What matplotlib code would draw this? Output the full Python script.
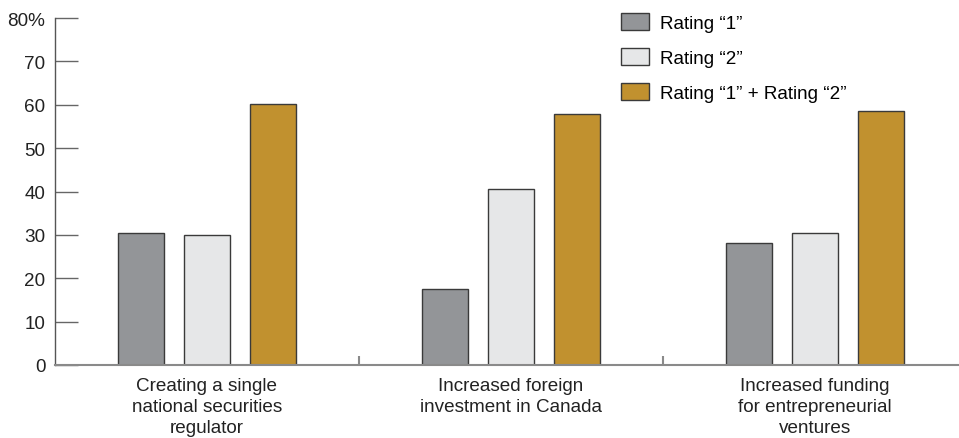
import numpy as np
import matplotlib
matplotlib.use('Agg')
import matplotlib.pyplot as plt
from matplotlib.ticker import FixedLocator, FuncFormatter

# Data
categories = ['Creating a single\nnational securities\nregulator',
              'Increased foreign\ninvestment in Canada',
              'Increased funding\nfor entrepreneurial\nventures']
series_names = ['Rating \u201c1\u201d', 'Rating \u201c2\u201d',
                'Rating \u201c1\u201d + Rating \u201c2\u201d']
rating1 = [30.4, 17.5, 28.2]
rating2 = [30.0, 40.5, 30.5]
rating12 = [60.2, 57.9, 58.5]
yticks = [0, 10, 20, 30, 40, 50, 60, 70, 80]

colors = ['#939598', '#E6E7E8', '#C1912F']
edge = '#3a3a3a'
FS = 13.6

plt.rcParams['font.family'] = ['Liberation Sans', 'DejaVu Sans']

W, H = 959, 439
fig = plt.figure(figsize=(W / 100, H / 100), dpi=100)
ax = fig.add_axes([55 / W, 73 / H, 912 / W, 347 / H])

x = np.arange(len(categories))
width = 0.151
offset = 0.217
for i, vals in enumerate([rating1, rating2, rating12]):
    ax.bar(x + (i - 1) * offset, vals, width, color=colors[i],
           edgecolor=edge, linewidth=1.0, label=series_names[i], zorder=3)

ax.set_xlim(-0.5, 2.5)
ax.set_ylim(0, 80)

for s in ['top', 'right']:
    ax.spines[s].set_visible(False)
ax.spines['left'].set_color('#555555')
ax.spines['left'].set_linewidth(1.0)
ax.spines['bottom'].set_color('#8a8a8a')
ax.spines['bottom'].set_linewidth(1.5)
ax.spines['bottom'].set_zorder(4)

ax.set_yticks(yticks)
ax.yaxis.set_major_formatter(FuncFormatter(lambda v, p: '80%' if v == 80 else f'{int(v)}'))
ax.tick_params(axis='y', direction='in', length=16.5, width=1.0, color='#666666',
               pad=7, labelsize=FS, labelcolor='#222222')

ax.set_xticks(x)
ax.set_xticklabels(categories, fontsize=FS, color='#222222', linespacing=1.3)
ax.tick_params(axis='x', which='major', length=0, pad=8.5)
ax.xaxis.set_minor_locator(FixedLocator([0.5, 1.5]))
ax.tick_params(axis='x', which='minor', direction='in', length=6.5, width=1.5,
               color='#8a8a8a')

ax.legend(loc='upper left', bbox_to_anchor=(621 / W, 1 - 14 / H),
          bbox_transform=fig.transFigure, frameon=False, fontsize=FS,
          handlelength=1.5, handleheight=1.0, handletextpad=0.55,
          labelspacing=0.85, borderpad=0, borderaxespad=0)

fig.savefig('out.png', dpi=100)
